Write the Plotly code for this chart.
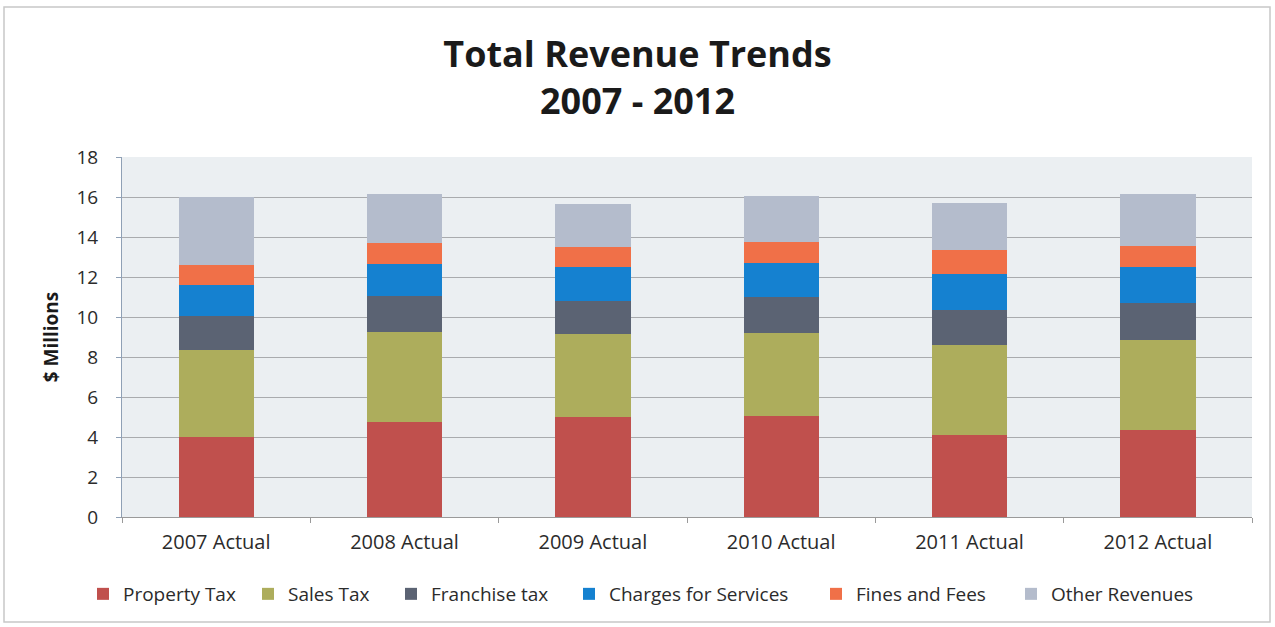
import plotly.graph_objects as go

# Revenue by source, $ millions
years = ["2007 Actual", "2008 Actual", "2009 Actual", "2010 Actual", "2011 Actual", "2012 Actual"]
property_tax = [4.00, 4.76, 5.02, 5.05, 4.10, 4.35]
sales_tax = [4.35, 4.49, 4.13, 4.15, 4.48, 4.51]
franchise_tax = [1.68, 1.82, 1.63, 1.78, 1.79, 1.84]
charges_for_services = [1.55, 1.60, 1.71, 1.73, 1.77, 1.81]
fines_and_fees = [1.00, 1.04, 1.00, 1.05, 1.20, 1.03]
other_revenues = [3.42, 2.46, 2.14, 2.29, 2.38, 2.63]

series = [
    ("Property Tax", property_tax, "#c0504d"),
    ("Sales Tax", sales_tax, "#adad5c"),
    ("Franchise tax", franchise_tax, "#5b6373"),
    ("Charges for Services", charges_for_services, "#1581d0"),
    ("Fines and Fees", fines_and_fees, "#f07048"),
    ("Other Revenues", other_revenues, "#b4bccc"),
]

W, H = 1275, 627
L, R, T, B = 122, 23, 157, 110
PW, PH = W - L - R, H - T - B

# left edge (px) of each legend entry along the bottom row
legend_left_px = [83, 248, 391, 569, 816, 1011]

font_family = "'Open Sans', Lato, sans-serif"

fig = go.Figure()
legend_layouts = {}
for i, (name, vals, color) in enumerate(series):
    key = "legend" if i == 0 else f"legend{i + 1}"
    fig.add_trace(go.Bar(
        name=name, x=years, y=vals,
        marker=dict(color=color, line=dict(width=0)),
        legend=key, showlegend=True,
    ))
    legend_layouts[key] = dict(
        orientation="h",
        xref="container", yref="container",
        x=legend_left_px[i] / W, xanchor="left",
        y=1 - 594 / H, yanchor="middle",
        font=dict(size=19, color="#2b2b2b", family=font_family),
        bgcolor="rgba(0,0,0,0)",
        visible=True,
    )

fig.update_layout(
    width=W, height=H,
    showlegend=True,
    barmode="stack",
    bargap=0.6,
    margin=dict(l=L, r=R, t=T, b=B, autoexpand=False),
    paper_bgcolor="white",
    plot_bgcolor="#ebeff2",
    font=dict(family=font_family, color="#2b2b2b", size=19),
    title=dict(
        text="<b>Total Revenue Trends</b><br><b>2007 - 2012</b>",
        x=0.5, xanchor="center", xref="container",
        y=0.893, yanchor="middle",
        font=dict(size=36, color="#1a1a1a", family=font_family),
    ),
    xaxis=dict(
        type="category",
        showgrid=False,
        showline=True, linecolor="#9a9a9a", linewidth=1,
        ticks="outside", tickson="boundaries", ticklen=5, tickcolor="#9a9a9a",
        ticklabelstandoff=7, tickangle=0,
        tickfont=dict(size=20, color="#2b2b2b"),
    ),
    yaxis=dict(
        range=[0, 18], dtick=2,
        showgrid=True, gridcolor="#a9abae", gridwidth=1,
        zeroline=False,
        showline=True, linecolor="#8fa0b5", linewidth=1,
        ticks="outside", ticklen=5, tickcolor="#8fa0b5",
        ticklabelstandoff=14,
        tickfont=dict(size=19, color="#2b2b2b"),
        title=dict(text="<b>$ Millions</b>", font=dict(size=19, color="#1a1a1a"), standoff=12),
    ),
    shapes=[
        # light frame around the chart
        dict(type="rect", xref="paper", yref="paper",
             x0=(4 - L) / PW, x1=(1270 - L) / PW,
             y0=-(622 - (H - B)) / PH, y1=1 + (T - 7) / PH,
             line=dict(color="#c8c8c8", width=1.5), layer="below"),
    ],
    **legend_layouts,
)

fig.write_html("out.html")
